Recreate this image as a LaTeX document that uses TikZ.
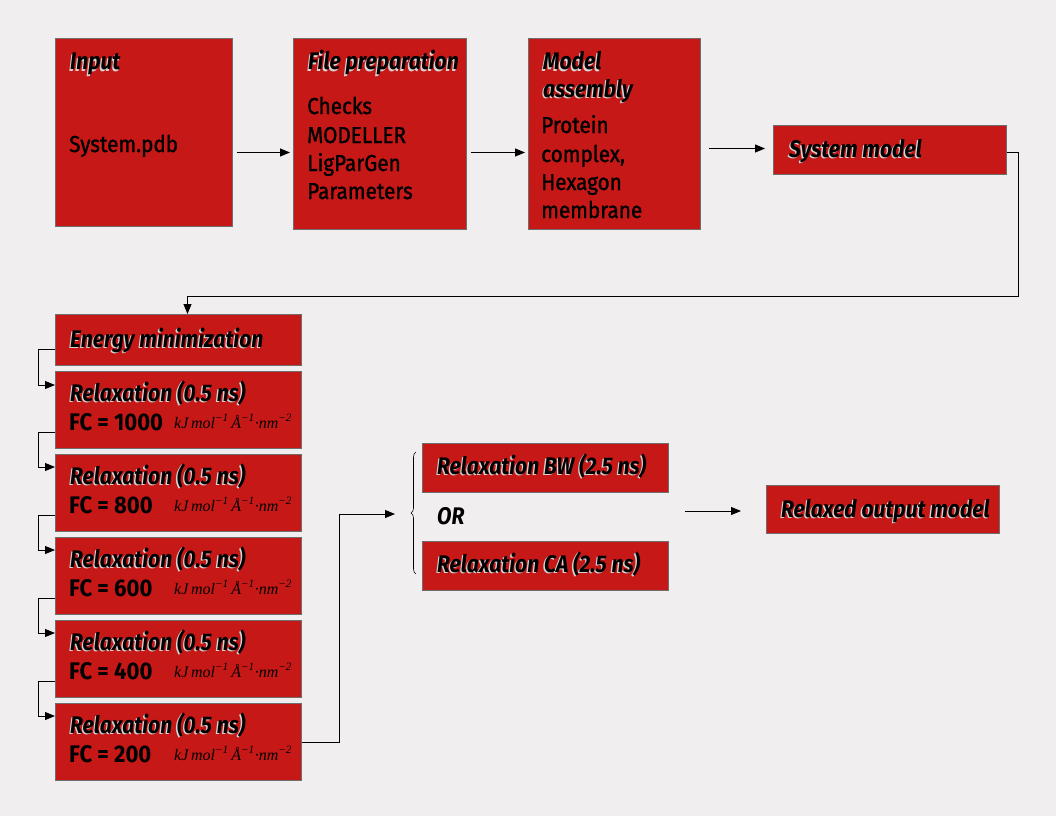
\documentclass[tikz,border=0pt]{standalone}
\usepackage{fontspec}
\usetikzlibrary{arrows.meta,decorations.pathreplacing}
\newfontfamily\bodyf{Fira Sans}[FakeStretch=0.9, FakeBold=1.2]
\newfontfamily\fcf{Fira Sans}[FakeStretch=0.92]
\newfontfamily\ttlf{Fira Sans}[FakeStretch=0.88]
\newfontfamily\unitf{Liberation Serif}
\definecolor{bgc}{HTML}{F0EEEF}
\definecolor{boxred}{HTML}{C71818}
\definecolor{bordergray}{HTML}{6E6E6E}
\definecolor{shadowc}{HTML}{D8D4D4}
\newcommand\shd[1]{\makebox[0pt][l]{\kern-1.4pt\raisebox{-1.4pt}{\color{shadowc}#1}}#1}
\newcommand\unitstr{kJ\,mol\textsuperscript{−1}\,Å\textsuperscript{−1}·nm\textsuperscript{−2}}
\begin{document}
\begin{tikzpicture}[x=1pt,y=-1pt,
  box/.style={draw=bordergray, line width=1pt, fill=boxred, anchor=north west, inner sep=0pt},
  ttl/.style={anchor=base west, inner sep=0pt, font=\ttlf\bfseries\itshape\fontsize{24}{28}\selectfont},
  body/.style={anchor=base west, inner sep=0pt, font=\bodyf\fontsize{23}{28}\selectfont},
  fc/.style={anchor=base west, inner sep=0pt, font=\fcf\bfseries\fontsize{24}{28}\selectfont},
  unit/.style={anchor=base west, inner sep=0pt, font=\unitf\itshape\fontsize{16}{18}\selectfont},
  arr/.style={-{Triangle[length=10pt,width=8pt]}, line width=0.9pt},
  ln/.style={line width=0.9pt}]
\fill[bgc] (0,0) rectangle (1056,816);
\useasboundingbox (0,0) rectangle (1056,816);

% top row
\node[box, minimum width=177pt, minimum height=188pt] (input) at (55,38) {};
\node[ttl] (inputT) at (70,70) {\shd{Input}};
\node[body] (inputB) at (69,152) {System.pdb};

\node[box, minimum width=173pt, minimum height=191pt] (prep) at (293,38) {};
\node[ttl] (prepT) at (308,70) {\shd{File preparation}};
\node[body] (prepB1) at (307,114) {Checks};
\node[body] (prepB2) at (307,143) {MODELLER};
\node[body] (prepB3) at (307,171) {LigParGen};
\node[body] (prepB4) at (307,199) {Parameters};

\node[box, minimum width=172pt, minimum height=191pt] (model) at (528,38) {};
\node[ttl] (modelT1) at (543,70) {\shd{Model}};
\node[ttl] (modelT2) at (543,97) {\shd{assembly}};
\node[body] (modelB1) at (541,133) {Protein};
\node[body] (modelB2) at (541,162) {complex,};
\node[body] (modelB3) at (541,190) {Hexagon};
\node[body] (modelB4) at (541,218) {membrane};

\node[box, minimum width=233pt, minimum height=49pt] (sys) at (773,125) {};
\node[ttl] (sysT) at (789,157) {\shd{System model}};

% left column
\node[box, minimum width=246pt, minimum height=51pt] (em) at (55,314) {};
\node[ttl] (emT) at (70,347) {\shd{Energy minimization}};

\foreach \i/\y/\fcv in {1/371/1000, 2/454/800, 3/537/600, 4/620/400, 5/703/200}{
  \node[box, minimum width=246pt, minimum height=77pt] (r\i) at (55,\y) {};
  \node[ttl] (r\i T) at (70,\y+30) {\shd{Relaxation (0.5 ns)}};
  \node[fc] (r\i F) at (69,\y+59) {FC = \fcv};
  \node[unit] (r\i U) at (174,\y+57) {\unitstr};
}

% right group
\node[box, minimum width=246pt, minimum height=49pt] (bw) at (422,443) {};
\node[ttl] (bwT) at (437,474) {\shd{Relaxation BW (2.5 ns)}};
\node[box, minimum width=246pt, minimum height=49pt] (ca) at (422,541) {};
\node[ttl] (caT) at (437,572) {\shd{Relaxation CA (2.5 ns)}};
\node[ttl] (or) at (437,524) {OR};
\node[box, minimum width=233pt, minimum height=48pt] (out) at (766,485) {};
\node[ttl] (outT) at (781,517) {\shd{Relaxed output model}};

% connectors
\draw[arr] ([xshift=4pt,yshift=-20pt]input.east) -- ([xshift=-3pt,yshift=-18.5pt]prep.west);
\draw[arr] ([xshift=4pt,yshift=-18.5pt]prep.east) -- ([xshift=-3pt,yshift=-18.5pt]model.west);
\draw[arr] ([xshift=8pt,yshift=1.5pt]model.east |- sys.west) -- ([xshift=-8pt,yshift=1.5pt]sys.west);

\coordinate (turn1) at (1018,296);
\draw[arr] ([yshift=-2.5pt]sys.east) -| (turn1) -| ([xshift=9pt]em.north);

\draw[arr] ([yshift=-9.5pt]em.west) -- ++(-17,0) |- ([yshift=25pt]r1.west);
\foreach \a/\b in {1/2,2/3,3/4,4/5}{
  \draw[arr] ([yshift=-22pt]r\a.west) -- ++(-17,0) |- ([yshift=26pt]r\b.west);
}

\coordinate (grpin) at (395,514);
\draw[arr] (r5.east) -- ++(37,0) |- (grpin);

\coordinate (brtop) at (416,452);
\coordinate (brbot) at (416,574);
\draw[line width=0.6pt, decorate, decoration={brace, amplitude=5pt}] (brbot) -- (brtop);

\coordinate (orout) at (685,511);
\draw[arr] (orout) -- ([xshift=-25pt]out.west |- orout);
\end{tikzpicture}
\end{document}
